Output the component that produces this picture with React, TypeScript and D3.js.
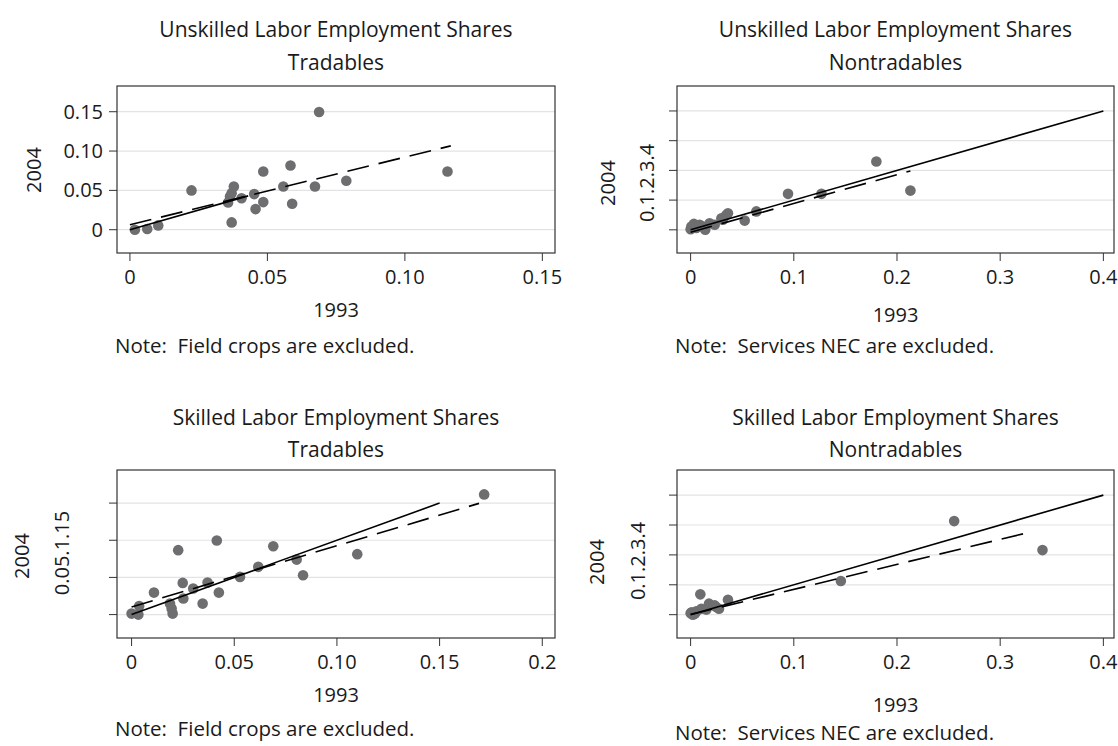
import { useEffect, useRef } from 'react';
import * as d3 from 'd3';

// Unskilled labor, tradables (1993 vs 2004 shares)
const ulTrad1993 = [0.0018, 0.0063, 0.0103, 0.0224, 0.0357, 0.0364, 0.037, 0.0378, 0.037, 0.0406, 0.0452, 0.0457, 0.0485, 0.0485, 0.0558, 0.0584, 0.059, 0.0673, 0.0688, 0.0787, 0.1155];
const ulTrad2004 = [0, 0.001, 0.0055, 0.05, 0.0347, 0.0423, 0.0465, 0.055, 0.0093, 0.04, 0.0453, 0.0262, 0.074, 0.0351, 0.055, 0.0816, 0.033, 0.055, 0.1497, 0.0622, 0.074];

// Unskilled labor, nontradables
const ulNon1993 = [0, 0.0007, 0.0032, 0.0055, 0.0087, 0.012, 0.0142, 0.0184, 0.0233, 0.0298, 0.0346, 0.0362, 0.0313, 0.0524, 0.0637, 0.0944, 0.1268, 0.18, 0.213];
const ulNon2004 = [0.002, 0.011, 0.02, 0.006, 0.017, 0.011, 0, 0.022, 0.017, 0.039, 0.05, 0.056, 0.034, 0.031, 0.062, 0.121, 0.121, 0.2297, 0.132];

// Skilled labor, tradables
const slTrad1993 = [0, 0.0033, 0.0037, 0.0109, 0.0187, 0.0195, 0.02, 0.0227, 0.0249, 0.0252, 0.03, 0.0346, 0.037, 0.0425, 0.0415, 0.0528, 0.0617, 0.069, 0.0804, 0.0835, 0.1099, 0.1717];
const slTrad2004 = [0.0013, 0, 0.0116, 0.0296, 0.0148, 0.0081, 0.0013, 0.0867, 0.0426, 0.0216, 0.035, 0.0148, 0.043, 0.0296, 0.0997, 0.0507, 0.0642, 0.092, 0.074, 0.053, 0.0813, 0.1617];

// Skilled labor, nontradables
const slNon1993 = [0, 0.0022, 0.0055, 0.0094, 0.0104, 0.0152, 0.0178, 0.0233, 0.0275, 0.0362, 0.001, 0.004, 0.0248, 0.1456, 0.2554, 0.341];
const slNon2004 = [0.005, 0, 0.011, 0.068, 0.02, 0.017, 0.037, 0.031, 0.02, 0.05, 0.008, 0.003, 0.0255, 0.1128, 0.313, 0.216];

// fitted lines (dashed) as [x0, y0, x1, y1]
const ulTradFit = [0, 0.0063, 0.1167, 0.1066];
const ulNonFit = [0, -0.008, 0.213, 0.198];
const slTradFit = [0, 0.0103, 0.1692, 0.1496];
const slNonFit = [0, 0.001, 0.33, 0.277];

// 45-degree reference line extents
const ulTradDiag = [0, 0.043];
const ulNonDiag = [0, 0.4];
const slTradDiag = [0, 0.15];
const slNonDiag = [0, 0.4];

// ticks
const ticksA = [0, 0.05, 0.1, 0.15];
const ticksALabels = ['0', '0.05', '0.10', '0.15'];
const ticksB = [0, 0.1, 0.2, 0.3, 0.4];
const ticksBLabels = ['0', '0.1', '0.2', '0.3', '0.4'];
const ticksBShort = ['0', '.1', '.2', '.3', '.4'];
const ticksC = [0, 0.05, 0.1, 0.15, 0.2];
const ticksCLabels = ['0', '0.05', '0.10', '0.15', '0.2'];
const ticksDShort = ['0', '.05', '.1', '.15'];

const titles = [
  ['Unskilled Labor Employment Shares', 'Tradables'],
  ['Unskilled Labor Employment Shares', 'Nontradables'],
  ['Skilled Labor Employment Shares', 'Tradables'],
  ['Skilled Labor Employment Shares', 'Nontradables'],
];
const notes = ['Note:  Field crops are excluded.', 'Note:  Services NEC are excluded.'];

const FONT = '"Open Sans", sans-serif';
const TXT = '#1a1a1a';

const panels = [
  {
    xs: ulTrad1993, ys: ulTrad2004, fit: ulTradFit, diag: ulTradDiag, title: titles[0], note: notes[0],
    box: [117, 555, 86, 253], xDom: [-0.0047, 0.1546], yDom: [-0.0296, 0.1827],
    xTicks: ticksC.slice(0, 4), xLabels: ticksALabels, yTicks: ticksA, yLabels: ticksALabels, yRot: null,
    titleY: [30, 63], yTitle: [34, 170], xLabY: 277, xTitleY: 310, noteY: 346,
  },
  {
    xs: ulNon1993, ys: ulNon2004, fit: ulNonFit, diag: ulNonDiag, title: titles[1], note: notes[1],
    box: [677, 1114, 86, 253], xDom: [-0.0132, 0.4103], yDom: [-0.078, 0.484],
    xTicks: ticksB, xLabels: ticksBLabels, yTicks: ticksB, yLabels: ticksBShort, yRot: [647, 183],
    titleY: [30, 63], yTitle: [608, 183], xLabY: 277, xTitleY: 315, noteY: 346,
  },
  {
    xs: slTrad1993, ys: slTrad2004, fit: slTradFit, diag: slTradDiag, title: titles[2], note: notes[0],
    box: [117, 555, 470, 638], xDom: [-0.0071, 0.2062], yDom: [-0.0315, 0.1945],
    xTicks: ticksC, xLabels: ticksCLabels, yTicks: ticksA, yLabels: ticksDShort, yRot: [62, 553],
    titleY: [418, 450], yTitle: [22, 556], xLabY: 662, xTitleY: 695, noteY: 729,
  },
  {
    xs: slNon1993, ys: slNon2004, fit: slNonFit, diag: slNonDiag, title: titles[3], note: notes[1],
    box: [677, 1114, 470, 638], xDom: [-0.0132, 0.4103], yDom: [-0.078, 0.484],
    xTicks: ticksB, xLabels: ticksBLabels, yTicks: ticksB, yLabels: ticksBShort, yRot: [638, 561],
    titleY: [418, 450], yTitle: [597, 562], xLabY: 662, xTitleY: 705, noteY: 733,
  },
];

export default function App() {
  const svgRef = useRef<SVGSVGElement>(null);

  useEffect(() => {
    const svg = d3.select(svgRef.current);
    svg.selectAll('*').remove();
    svg.append('rect').attr('width', 1118).attr('height', 746).attr('fill', '#fff');

    panels.forEach((p) => {
      const [bx0, bx1, by0, by1] = p.box;
      const x = d3.scaleLinear().domain(p.xDom).range([bx0, bx1]);
      const y = d3.scaleLinear().domain(p.yDom).range([by1, by0]);
      const g = svg.append('g').style('font-family', FONT).attr('fill', TXT);
      const cx = (bx0 + bx1) / 2;

      // titles
      p.title.forEach((t, i) => {
        g.append('text').attr('x', cx).attr('y', p.titleY[i]).attr('dy', '0.35em')
          .attr('text-anchor', 'middle').attr('font-size', 21).text(t);
      });

      // gridlines
      g.selectAll('.grid').data(p.yTicks).join('line')
        .attr('x1', bx0).attr('x2', bx1)
        .attr('y1', (d) => y(d)).attr('y2', (d) => y(d))
        .attr('stroke', '#e3e3e3').attr('stroke-width', 1.2);

      // y ticks
      g.selectAll('.yt').data(p.yTicks).join('line')
        .attr('x1', bx0 - 8).attr('x2', bx0)
        .attr('y1', (d) => y(d)).attr('y2', (d) => y(d))
        .attr('stroke', '#333').attr('stroke-width', 1);

      if (p.yRot) {
        g.append('text').attr('transform', `translate(${p.yRot[0]},${p.yRot[1]}) rotate(-90)`)
          .attr('dy', '0.35em').attr('text-anchor', 'middle').attr('font-size', 20)
          .text(p.yLabels.join(''));
      } else {
        g.selectAll('.yl').data(p.yTicks).join('text')
          .attr('x', bx0 - 14).attr('y', (d) => y(d)).attr('dy', '0.35em')
          .attr('text-anchor', 'end').attr('font-size', 20)
          .text((_d, i) => p.yLabels[i]);
      }

      // y title
      g.append('text').attr('transform', `translate(${p.yTitle[0]},${p.yTitle[1]}) rotate(-90)`)
        .attr('dy', '0.35em').attr('text-anchor', 'middle').attr('font-size', 20).text('2004');

      // x ticks + labels
      g.selectAll('.xt').data(p.xTicks).join('line')
        .attr('x1', (d) => x(d)).attr('x2', (d) => x(d))
        .attr('y1', by1).attr('y2', by1 + 8)
        .attr('stroke', '#333').attr('stroke-width', 1);
      g.selectAll('.xl').data(p.xTicks).join('text')
        .attr('x', (d) => x(d)).attr('y', p.xLabY).attr('dy', '0.35em')
        .attr('text-anchor', 'middle').attr('font-size', 20)
        .text((_d, i) => p.xLabels[i]);

      g.append('text').attr('x', cx).attr('y', p.xTitleY).attr('dy', '0.35em')
        .attr('text-anchor', 'middle').attr('font-size', 20).text('1993');

      g.append('text').attr('x', bx0 - 2).attr('y', p.noteY).attr('dy', '0.35em')
        .attr('font-size', 20.5).style('white-space', 'pre').text(p.note);

      // points
      g.selectAll('.pt').data(p.xs).join('circle')
        .attr('cx', (d) => x(d)).attr('cy', (_d, i) => y(p.ys[i]))
        .attr('r', 5.3).attr('fill', '#6e6e70');

      // 45-degree line
      g.append('line')
        .attr('x1', x(p.diag[0])).attr('y1', y(p.diag[0]))
        .attr('x2', x(p.diag[1])).attr('y2', y(p.diag[1]))
        .attr('stroke', '#000').attr('stroke-width', 1.6);

      // fitted line
      g.append('line')
        .attr('x1', x(p.fit[0])).attr('y1', y(p.fit[1]))
        .attr('x2', x(p.fit[2])).attr('y2', y(p.fit[3]))
        .attr('stroke', '#000').attr('stroke-width', 1.6)
        .attr('stroke-dasharray', '22,10');

      // frame
      g.append('rect').attr('x', bx0).attr('y', by0)
        .attr('width', bx1 - bx0).attr('height', by1 - by0)
        .attr('fill', 'none').attr('stroke', '#333').attr('stroke-width', 1.2);
    });
  }, []);

  return (
    <svg ref={svgRef} width={1118} height={746}
      style={{ position: 'absolute', left: 0, top: 0, background: '#fff' }} />
  );
}
